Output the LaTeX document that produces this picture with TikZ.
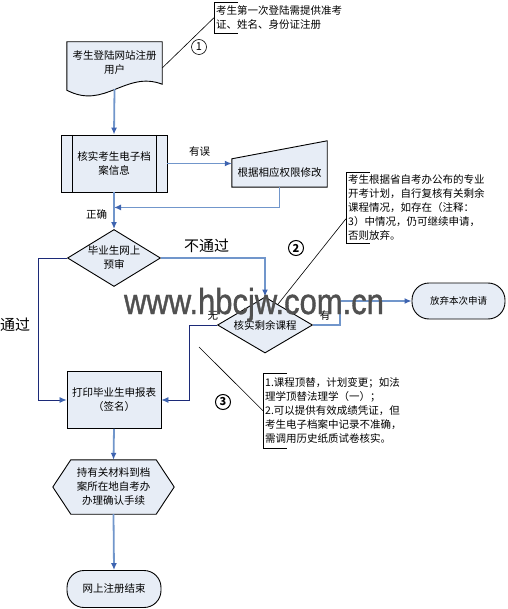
\documentclass[tikz,border=0pt]{standalone}
\usepackage{fontspec}
\setmainfont{Noto Sans CJK SC}
\newfontfamily\wmfont[FakeBold=1.2]{Liberation Sans}
\usetikzlibrary{arrows.meta,calc,shapes.geometric,backgrounds}
\definecolor{fillBox}{HTML}{E7EDF6}
\definecolor{flowBlue}{HTML}{7196CB}
\definecolor{tipBlue}{HTML}{3E64B0}
\definecolor{navyLine}{HTML}{1C2A78}
\definecolor{markGray}{HTML}{505050}

\begin{document}
\begin{tikzpicture}[x=1pt,y=-1pt,
  box/.style={draw,fill=fillBox,line width=0.9pt,align=center,
    font=\fontsize{10.5}{14}\selectfont,inner sep=0pt},
  plaintxt/.style={align=center,font=\fontsize{10.5}{14}\selectfont,inner sep=0pt},
  shapeline/.style={draw,fill=fillBox,line width=0.9pt},
  decide/.style={box,diamond,aspect=1.6},
  term/.style={box,rounded corners=17pt},
  flow/.style={draw=flowBlue,line width=1.8pt,-{Latex[length=7pt,width=6pt,color=tipBlue]}},
  thinflow/.style={draw=flowBlue,line width=1.3pt,-{Latex[length=7pt,width=6pt,color=tipBlue]}},
  sideflow/.style={draw=navyLine,line width=0.8pt,-{Latex[length=7pt,width=6pt,color=tipBlue]}},
  callout/.style={align=left,font=\fontsize{10.5}{14}\selectfont,inner xsep=2pt,inner ysep=0pt,anchor=north west},
  circnum/.style={draw,circle,inner sep=0pt,minimum size=15pt,font=\fontsize{11}{11}\selectfont},
  lbl/.style={font=\fontsize{10.5}{12}\selectfont,inner sep=0pt},
  biglbl/.style={font=\fontsize{15}{16}\selectfont,inner sep=0pt},
]
  \useasboundingbox (0,0) rectangle (507,609);

  % main column
  \node[plaintxt,minimum width=95pt,minimum height=42pt] (doc) at (114.5,63) {考生登陆网站注册\\用户};
  \node[box,minimum width=106pt,minimum height=57pt,
    path picture={\draw[line width=0.9pt]
      ([xshift=11pt]path picture bounding box.north west) -- ([xshift=11pt]path picture bounding box.south west)
      ([xshift=-11pt]path picture bounding box.north east) -- ([xshift=-11pt]path picture bounding box.south east);}]
    (pp) at (114,163.5) {核实考生电子档\\案信息};
  \node[plaintxt,minimum width=95pt,minimum height=28pt] (man) at (279.5,173) {根据相应权限修改};
  \node[decide,minimum width=93pt,minimum height=57pt] (d1) at (114,258) {毕业生网上\\预审};
  \node[decide,minimum width=95pt,minimum height=56pt] (d2) at (265,325) {核实剩余课程};
  \node[term,minimum width=93pt,minimum height=36pt,font=\fontsize{9.5}{12}\selectfont] (ab) at (458.5,301) {放弃本次申请};
  \node[box,minimum width=94pt,minimum height=57pt] (pr) at (114,400) {打印毕业生申报表\\（签名）};
  \node[plaintxt,minimum width=121pt,minimum height=54pt] (hx) at (113.5,487) {持有关材料到档\\案所在地自考办\\办理确认手续};
  \node[term,minimum width=94pt,minimum height=37pt] (fin) at (114,589) {网上注册结束};

  \begin{scope}[on background layer]
    \draw[shapeline] (doc.north west) -- (doc.north east) -- (doc.south east)
      .. controls ($(doc.south east)+(-37,-14)$) and ($(doc.south west)+(38,26)$) .. ($(doc.south west)+(0,6)$) -- cycle;
    \draw[shapeline] (man.south west) -- (man.north west) -- ([yshift=18pt]man.north east) -- (man.south east) -- cycle;
    \draw[shapeline] (hx.west) -- ([xshift=18pt]hx.north west) -- ([xshift=-18pt]hx.north east)
      -- (hx.east) -- ([xshift=-18pt]hx.south east) -- ([xshift=18pt]hx.south west) -- cycle;
  \end{scope}

  % callouts
  \node[callout,minimum height=31pt] (c1) at (214,2) {考生第一次登陆需提供准考\\证、姓名、身份证注册};
  \node[callout,minimum height=71pt] (c2) at (346,172) {考生根据省自考办公布的专业\\开考计划，自行复核有关剩余\\课程情况，如存在（注释：\\3）中情况，仍可继续申请，\\否则放弃。};
  \node[callout,minimum height=75pt] (c3) at (263,373) {1.课程顶替，计划变更；如法\\理学顶替法理学（一）；\\2.可以提供有效成绩凭证，但\\考生电子档案中记录不准确，\\需调用历史纸质试卷核实。};
  \foreach \c in {c1,c2,c3}
    \draw[line width=0.8pt] ([xshift=24pt]\c.north west) -- (\c.north west) -- (\c.south west) -- ([xshift=24pt]\c.south west);
  \coordinate (c3tail) at (199,347);
  \draw[line width=0.6pt] ([yshift=-5pt]doc.east) -- (c1.west);
  \draw[line width=0.6pt] ($(d2.north)!0.27!(d2.east)$) -- ([yshift=-11pt]c2.west);
  \draw[line width=0.6pt] (c3tail) -- (c3.west);
  \node[circnum,line width=0.6pt] (n1) at (199,47) {1};
  \node[circnum,line width=1pt,font=\fontsize{11}{11}\selectfont\bfseries] (n2) at (296,248) {2};
  \node[circnum,line width=1pt,font=\fontsize{11}{11}\selectfont\bfseries] (n3) at (223,402) {3};

  % connectors
  \draw[flow] ([yshift=-5pt]doc.south) -- (pp.north);
  \draw[thinflow] (pp.east) -- node[lbl,above=6pt]{有误} (pp.east -| man.west);
  \draw[thinflow] (man.south) |- ([yshift=-15pt]pp.south);
  \draw[flow] (pp.south) -- node[lbl,pos=0.6,left=6pt]{正确} (d1.north);
  \draw[thinflow] (d1.east) -| node[biglbl,pos=0.22,above=5pt]{不通过} (d2.north);
  \draw[sideflow] (d1.west) -- ++(-29,0) |- (pr.west);
  \node[biglbl] (lpass) at (15,325) {通过};
  \draw[thinflow] (d2.east) -- node[lbl,pos=0.45,above=4pt]{有} ++(27,0) |- (ab.west);
  \draw[sideflow] (d2.west) -- node[lbl,pos=0.15,above=4pt]{无} ++(-28,0) |- (pr.east);
  \draw[flow] (pr.south) -- (hx.north);
  \draw[flow] (hx.south) -- (fin.north);

  % watermark
  \node[text=markGray,font=\wmfont\fontsize{36}{36}\selectfont,anchor=base,inner sep=0pt] (wm) at (254,314)
    {\scalebox{0.86}[1]{www.hbcjw.com.cn}};
\end{tikzpicture}
\end{document}
